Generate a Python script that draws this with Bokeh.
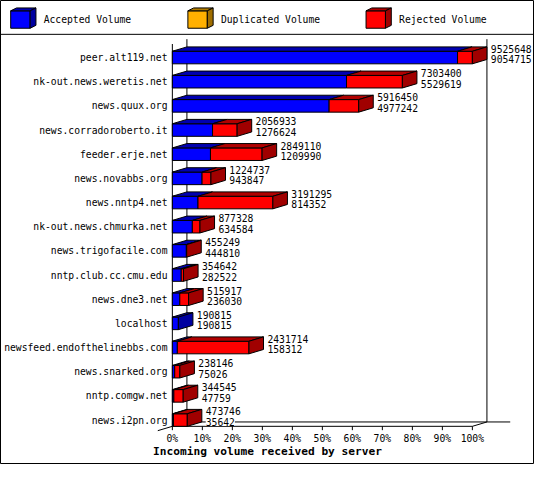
from bokeh.plotting import figure
from bokeh.models import Range1d
from bokeh.core.properties import value
from bokeh.embed import file_html
from bokeh.resources import INLINE

# ---------------- data ----------------
servers = [
    "peer.alt119.net", "nk-out.news.weretis.net", "news.quux.org",
    "news.corradoroberto.it", "feeder.erje.net", "news.novabbs.org",
    "news.nntp4.net", "nk-out.news.chmurka.net", "news.trigofacile.com",
    "nntp.club.cc.cmu.edu", "news.dne3.net", "localhost",
    "newsfeed.endofthelinebbs.com", "news.snarked.org", "nntp.comgw.net",
    "news.i2pn.org",
]
total_volume = [9525648, 7303400, 5916450, 2056933, 2849110, 1224737,
                3191295, 877328, 455249, 354642, 515917, 190815,
                2431714, 238146, 344545, 473746]
accepted_volume = [9054715, 5529619, 4977242, 1276624, 1209990, 943847,
                   814352, 634584, 444810, 282522, 236030, 190815,
                   158312, 75026, 47759, 35642]
duplicated_volume = [0] * 16
tick_values = [0, 10, 20, 30, 40, 50, 60, 70, 80, 90, 100]
tick_labels = ["0%", "10%", "20%", "30%", "40%", "50%", "60%", "70%",
               "80%", "90%", "100%"]
legend_labels = ["Accepted Volume", "Duplicated Volume", "Rejected Volume"]
axis_title = "Incoming volume received by server"

# ---------------- styles / layout ----------------
FRONT = ["#0000FF", "#FFB000", "#FF0000"]
TOP = ["#0000B0", "#B07C00", "#B00000"]
SIDE = ["#0000A0", "#A06E00", "#A00000"]

REF_W, REF_H = 550, 480
W, H = 534, 464
SX = W / REF_W
FONT = value("DejaVu Sans Mono")
FS = "%.1fpx" % (10 * SX)
FS_T = "%.1fpx" % (11.5 * SX)

X0 = 177.0          # px of 0 %
PPX = 3.09          # px per percent
ROW0 = 59.0         # px of first row center
ROW_H = 25.0
FACE_H = 13.0
DXP, DYP = 15.0, 4.5


def X(px):
    return (px - X0) / PPX


def Y(py):
    return (py - ROW0) / ROW_H


dxu = DXP / PPX
dyu = DYP / ROW_H
hh = FACE_H / 2 / ROW_H

p = figure(width=W, height=H, output_backend="svg", toolbar_location=None,
           x_range=Range1d(X(0), X(REF_W)), y_range=Range1d(Y(REF_H), Y(0)),
           min_border=0)
p.axis.visible = False
p.grid.visible = False
p.outline_line_color = "black"
p.background_fill_color = "white"
p.border_fill_color = "white"

vmax = max(total_volume)

# ---------------- frame lines ----------------
yf = Y(440.5)
yb = yf - dyu
ytop = Y(40)
p.segment(x0=[dxu, 100 + dxu], y0=[ytop, ytop], x1=[dxu, 100 + dxu], y1=[yb, yb],
          line_color="black", line_width=1)
p.segment(x0=[0], y0=[Y(45)], x1=[0], y1=[yf], line_color="black")
p.segment(x0=[0, dxu, 100, 0], y0=[yf, yb, yf, yf],
          x1=[100, X(525), 100 + dxu, -dxu], y1=[yf, yb, yb, yf + dyu],
          line_color="black")
p.segment(x0=tick_values, y0=[yf] * len(tick_values), x1=tick_values,
          y1=[yf + 4 / ROW_H] * len(tick_values), line_color="black")

# ---------------- bars ----------------
fl, fr, ft, fb, fc = [], [], [], [], []
txs, tys, tcs = [], [], []
sxs, sys_, scs = [], [], []
for i, (tot, acc, dup) in enumerate(zip(total_volume, accepted_volume, duplicated_volume)):
    a = acc / vmax * 100
    d = dup / vmax * 100
    t = tot / vmax * 100
    segs = [(0, a, 0), (a, a + d, 1), (a + d, t, 2)]
    top = i - hh
    bot = i + hh
    last = 0
    for l, r, k in segs:
        if r - l <= 0:
            continue
        last = k
        fl.append(l); fr.append(r); ft.append(top); fb.append(bot); fc.append(FRONT[k])
        txs.append([l, r, r + dxu, l + dxu])
        tys.append([top, top, top - dyu, top - dyu])
        tcs.append(TOP[k])
    sxs.append([t, t + dxu, t + dxu, t])
    sys_.append([top, top - dyu, bot - dyu, bot])
    scs.append(SIDE[last])

p.quad(left=fl, right=fr, top=ft, bottom=fb, fill_color=fc, line_color="black")
p.patches(xs=txs, ys=tys, fill_color=tcs, line_color="black")
p.patches(xs=sxs, ys=sys_, fill_color=scs, line_color="black")

# ---------------- labels ----------------
idx = list(range(len(servers)))
p.text(x=[X(172)] * len(servers), y=idx, text=servers, text_font=FONT,
       text_font_size=FS, text_align="right", text_baseline="middle",
       text_color="black")

vx = [tot / vmax * 100 + dxu + 4 / PPX for tot in total_volume]
p.text(x=vx + vx, y=[i - 9 / ROW_H for i in idx] + [i + 2 / ROW_H for i in idx],
       text=[str(v) for v in total_volume] + [str(v) for v in accepted_volume],
       text_font=FONT, text_font_size=FS, text_align="left",
       text_baseline="middle", text_color="black",
       background_fill_color="white")

p.text(x=tick_values, y=[Y(453)] * len(tick_values), text=tick_labels,
       text_font=FONT, text_font_size=FS, text_align="center",
       text_baseline="middle", text_color="black")
p.text(x=[X(275)], y=[Y(467)], text=[axis_title], text_font=FONT,
       text_font_size=FS_T, text_font_style="bold", text_align="center",
       text_baseline="middle", text_color="black")

# ---------------- legend ----------------
p.segment(x0=[X(0)], y0=[Y(35)], x1=[X(REF_W)], y1=[Y(35)], line_color="black")
lx = [10.5, 193.0, 376.5]
lf_xs, lf_ys, lf_c = [], [], []
for k, L in enumerate(lx):
    x1, x2 = X(L), X(L + 20)
    y1, y2 = Y(10.7), Y(28.7)
    ddx, ddy = 6 / PPX, 3 / ROW_H
    lf_xs += [[x1, x2, x2, x1], [x1, x2, x2 + ddx, x1 + ddx], [x2, x2 + ddx, x2 + ddx, x2]]
    lf_ys += [[y1, y1, y2, y2], [y1, y1, y1 - ddy, y1 - ddy], [y1, y1 - ddy, y2 - ddy, y2]]
    lf_c += [FRONT[k], TOP[k], SIDE[k]]
p.patches(xs=lf_xs, ys=lf_ys, fill_color=lf_c, line_color="black")
p.text(x=[X(L + 34) for L in lx], y=[Y(20)] * 3, text=legend_labels,
       text_font=FONT, text_font_size=FS, text_align="left",
       text_baseline="middle", text_color="black")

open("out.html", "w").write(file_html(p, INLINE))
